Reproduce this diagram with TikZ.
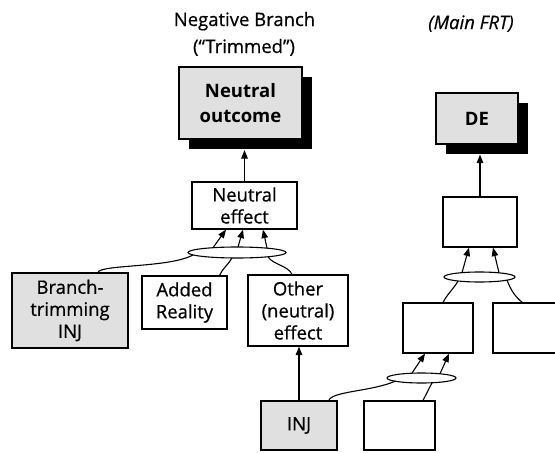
\documentclass[tikz,border=0pt]{standalone}
\usepackage{fontspec}
\setmainfont{Open Sans}[UprightFeatures={FakeBold=0.6},ItalicFeatures={FakeBold=0.6}]
\usetikzlibrary{arrows.meta,shapes.geometric,shadows,calc}
\newcommand\fs{\fontsize{18.5}{22}\selectfont}
\begin{document}
\begin{tikzpicture}[x=1pt,y=-1pt,
  every node/.style={font=\fs},
  box/.style={draw,line width=1.2pt,inner sep=0pt,align=center,fill=white},
  graybox/.style={box,fill=black!12},
  shadowbox/.style={graybox,drop shadow={shadow xshift=10pt,shadow yshift=-10pt,fill=black,opacity=1}},
  andell/.style={draw,ellipse,line width=1.1pt,inner sep=0pt,fill=white},
  conn/.style={line width=1.1pt},
  arr/.style={conn,-{Triangle[length=8.5pt,width=6.5pt]}}
]
\clip (0,0) rectangle (555,453);
\fill[white] (0,0) rectangle (555,453);

% titles
\node[anchor=base] (T1) at (244.5,26) {Negative Branch};
\node[anchor=base] (T2) at (244,53) {(“Trimmed”)};
\node[anchor=base,font=\fs\itshape] (T3) at (471,29) {(Main FRT)};

% boxes
\node[shadowbox,minimum width=123pt,minimum height=72pt,font=\fs\bfseries] (NO) at (240.5,103) {Neutral\\[3pt]outcome};
\node[shadowbox,minimum width=82pt,minimum height=51pt,font=\fs\bfseries] (DE) at (477,118.5) {DE};
\node[box,minimum width=105pt,minimum height=47pt] (NE) at (244.5,205.5) {Neutral\\effect};
\node[graybox,minimum width=116pt,minimum height=75pt] (BT) at (70,310.5) {Branch-\\trimming\\INJ};
\node[box,minimum width=85pt,minimum height=53pt] (AR) at (184.5,302.5) {Added\\Reality};
\node[box,minimum width=100pt,minimum height=71pt] (OT) at (298,310.5) {Other\\(neutral)\\effect};
\node[graybox,minimum width=76pt,minimum height=49pt] (INJ) at (299,425.5) {INJ};
\node[box,minimum width=71pt,minimum height=49pt] (B2) at (399.5,425.5) {};
\node[box,minimum width=74pt,minimum height=50pt] (R1) at (480,222) {};
\node[box,minimum width=70pt,minimum height=50pt] (M) at (438,328) {};
\node[box,minimum width=100pt,minimum height=50pt] (RC) at (543,328) {};

% AND ellipses
\node[andell,minimum width=98pt,minimum height=11pt] (E1) at (237,252.5) {};
\node[andell,minimum width=71pt,minimum height=10pt] (E2) at (479.5,277) {};
\node[andell,minimum width=69pt,minimum height=10pt] (E3) at (421.5,378) {};

% vertical arrows
\coordinate (NOs) at ($(NO.south)+(0,10.5)$);
\coordinate (DEs) at ($(DE.south)+(0,10)$);
\draw[arr] (NE.north) -- (NE.north |- NOs);
\draw[arr] (R1.north) -- (R1.north |- DEs);
\draw[arr] (INJ.north) -- (INJ.north |- OT.south);

% E1
\draw[arr] ($(E1.center)+(-24,-4.8)$) -- ($(NE.south)+(-18.5,0)$);
\draw[arr] ($(E1.center)+(1,-5.5)$) -- ($(NE.south)+(-1.5,0)$);
\draw[arr] ($(E1.center)+(30,-4.4)$) -- ($(NE.south)+(18.5,0)$);
\draw[conn] ($(BT.north)+(28,0)$) .. controls +(2,-8) and +(-23,13) .. ($(E1.center)+(-44,2.4)$);
\draw[conn] ($(AR.north)+(35,0)$) .. controls +(3,-7) and +(-3,6) .. ($(E1.center)+(-5,5.4)$);
\draw[conn] ($(OT.north)+(-6,0)$) .. controls +(-4,-9) and +(5,8) .. ($(E1.center)+(31,4.3)$);

% E2
\draw[arr] ($(E2.center)+(-17.5,-4.3)$) -- ($(R1.south)+(-11,0)$);
\draw[arr] ($(E2.center)+(19.5,-4.2)$) -- ($(R1.south)+(13,0)$);
\draw[conn] ($(M.north)+(5,0)$) .. controls +(4,-8) and +(-3,6) .. ($(E2.center)+(-21.5,4)$);
\draw[conn] ($(RC.north west)+(30,0)$) .. controls +(-8,-6) and +(3,8) .. ($(E2.center)+(27.5,3.1)$);

% E3
\draw[arr] ($(E3.center)+(-9.5,-4.9)$) -- ($(M.south)+(-13,0)$);
\draw[arr] ($(E3.center)+(18.5,-4.2)$) -- ($(M.south)+(11,0)$);
\draw[conn] ($(INJ.north)+(30,0)$) .. controls +(2,-9) and +(-22,10) .. ($(E3.center)+(-26.5,3.2)$);
\draw[conn] ($(B2.north)+(23.5,0)$) -- ($(E3.center)+(10.5,4.8)$);
\end{tikzpicture}
\end{document}
